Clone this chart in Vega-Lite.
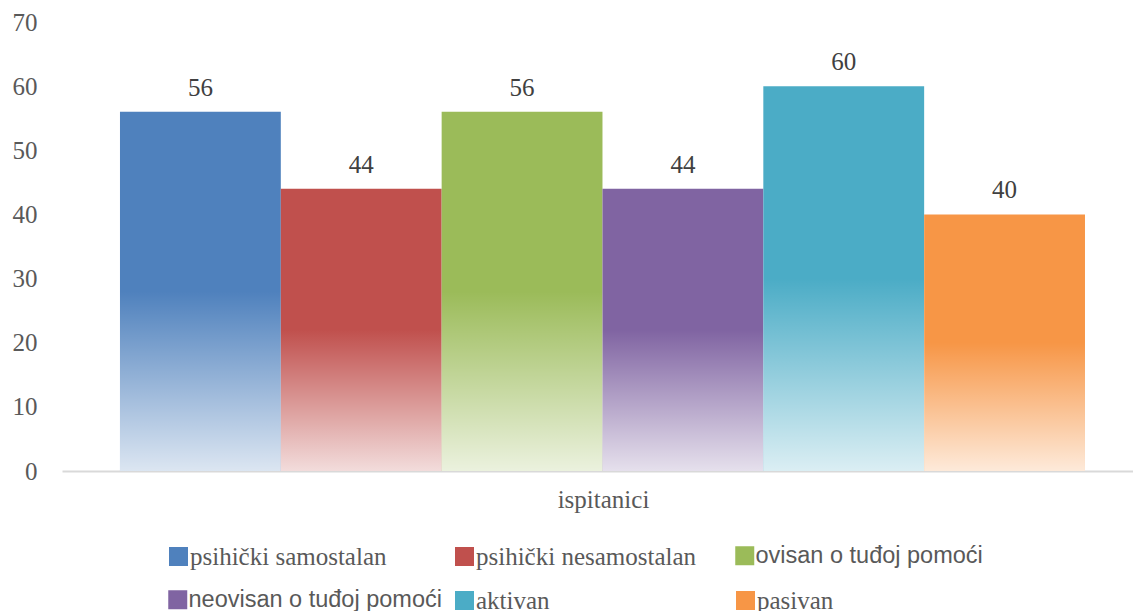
{
  "$schema": "https://vega.github.io/schema/vega-lite/v6.json",
  "width": 1071,
  "height": 449,
  "autosize": "none",
  "padding": {"left": 62, "top": 22, "right": 0, "bottom": 140},
  "background": "white",
  "config": {
    "view": {"stroke": null},
    "font": "Liberation Serif",
    "legend": {
      "orient": "none",
      "padding": 0,
      "symbolType": "square",
      "symbolSize": 361,
      "symbolStrokeWidth": 0,
      "labelOffset": -1,
      "labelLimit": 400,
      "labelFont": "Liberation Serif",
      "labelFontSize": 25,
      "labelColor": "#595959"
    }
  },
  "data": {
    "values": [
      {"kategorija": "psihički samostalan", "postotak": 56},
      {"kategorija": "psihički nesamostalan", "postotak": 44},
      {"kategorija": "ovisan o tuđoj pomoći", "postotak": 56},
      {"kategorija": "neovisan o tuđoj pomoći", "postotak": 44},
      {"kategorija": "aktivan", "postotak": 60},
      {"kategorija": "pasivan", "postotak": 40}
    ]
  },
  "encoding": {
    "x": {
      "field": "kategorija",
      "type": "nominal",
      "sort": null,
      "scale": {
        "domain": ["psihički samostalan", "psihički nesamostalan", "ovisan o tuđoj pomoći", "neovisan o tuđoj pomoći", "aktivan", "pasivan"],
        "paddingInner": 0, "paddingOuter": 0.3295, "align": 0.547
      },
      "axis": {
        "labels": false,
        "ticks": false,
        "domainColor": "#d9d9d9",
        "domainWidth": 2,
        "title": "ispitanici",
        "titleFont": "Liberation Serif",
        "titleFontSize": 25,
        "titleFontWeight": "normal",
        "titleColor": "#595959",
        "titleX": 541,
        "titleY": 36,
        "titleBaseline": "alphabetic",
        "titleAlign": "center"
      }
    },
    "y": {
      "field": "postotak",
      "type": "quantitative",
      "scale": {"domain": [0, 70], "nice": false},
      "axis": {
        "values": [0, 10, 20, 30, 40, 50, 60, 70],
        "domain": false,
        "ticks": false,
        "grid": false,
        "labelFont": "Liberation Serif",
        "labelFontSize": 25,
        "labelColor": "#595959",
        "labelPadding": 25,
        "title": null
      }
    }
  },
  "layer": [
    {
      "transform": [{"filter": {"field": "kategorija", "equal": "psihički samostalan"}}],
      "mark": {"type": "bar"},
      "encoding": {
        "color": {"field": "kategorija", "type": "nominal", "scale": {"range": ["#4f81bd"]},
          "legend": {"title": null, "legendX": 104, "legendY": 522}}
      }
    },
    {
      "transform": [{"filter": {"field": "kategorija", "equal": "psihički nesamostalan"}}],
      "mark": {"type": "bar"},
      "encoding": {
        "color": {"field": "kategorija", "type": "nominal", "scale": {"range": ["#c0504d"]},
          "legend": {"title": null, "legendX": 390, "legendY": 522}}
      }
    },
    {
      "transform": [{"filter": {"field": "kategorija", "equal": "ovisan o tuđoj pomoći"}}],
      "mark": {"type": "bar"},
      "encoding": {
        "color": {"field": "kategorija", "type": "nominal", "scale": {"range": ["#9bbb59"]},
          "legend": {"title": null, "legendX": 671, "legendY": 522, "labelFont": "Liberation Sans", "labelFontSize": 23.5}}
      }
    },
    {
      "transform": [{"filter": {"field": "kategorija", "equal": "neovisan o tuđoj pomoći"}}],
      "mark": {"type": "bar"},
      "encoding": {
        "color": {"field": "kategorija", "type": "nominal", "scale": {"range": ["#8064a2"]},
          "legend": {"title": null, "legendX": 104, "legendY": 566, "labelFont": "Liberation Sans", "labelFontSize": 23.5}}
      }
    },
    {
      "transform": [{"filter": {"field": "kategorija", "equal": "aktivan"}}],
      "mark": {"type": "bar"},
      "encoding": {
        "color": {"field": "kategorija", "type": "nominal", "scale": {"range": ["#4bacc6"]},
          "legend": {"title": null, "legendX": 390, "legendY": 566}}
      }
    },
    {
      "transform": [{"filter": {"field": "kategorija", "equal": "pasivan"}}],
      "mark": {"type": "bar"},
      "encoding": {
        "color": {"field": "kategorija", "type": "nominal", "scale": {"range": ["#f79646"]},
          "legend": {"title": null, "legendX": 671, "legendY": 566}}
      }
    },
    {
      "mark": {
        "type": "bar",
        "color": {
          "gradient": "linear",
          "x1": 0, "y1": 0, "x2": 0, "y2": 1,
          "stops": [
            {"offset": 0, "color": "rgba(255,255,255,0)"},
            {"offset": 0.5, "color": "rgba(255,255,255,0)"},
            {"offset": 1, "color": "rgba(255,255,255,0.8)"}
          ]
        }
      }
    },
    {
      "mark": {"type": "text", "dy": -16, "baseline": "alphabetic", "font": "Liberation Serif", "fontSize": 25, "color": "#404040"},
      "encoding": {"text": {"field": "postotak", "type": "quantitative"}}
    }
  ],
  "resolve": {"scale": {"color": "independent"}, "legend": {"color": "independent"}}
}
